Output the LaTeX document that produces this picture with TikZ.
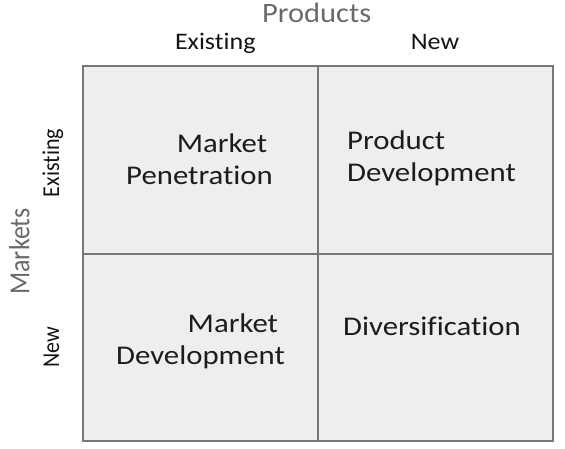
\documentclass[tikz,border=0pt]{standalone}
\usepackage{fontspec}
\usepackage{graphicx}
\setmainfont{Carlito}[Ligatures={NoCommon,NoContextual}]
\definecolor{cellfill}{HTML}{EEEEEE}
\definecolor{gridline}{HTML}{777777}
\definecolor{axisgray}{HTML}{6A6A6A}
\definecolor{labdark}{HTML}{141414}
\definecolor{qtext}{HTML}{1C1C1C}
\newcommand{\hstr}[2]{\scalebox{#1}[1]{#2}}
\newcommand{\vstr}[2]{\scalebox{1}[#1]{#2}}
\begin{document}
\begin{tikzpicture}[x=1pt,y=-1pt,
  cell/.style={draw=gridline, line width=2.2pt, fill=cellfill, rectangle,
    minimum width=235pt, minimum height=187.5pt, inner sep=0pt, anchor=north west},
  axislab/.style={text=axisgray, inner sep=0pt},
  collab/.style={text=labdark, inner sep=0pt, font=\fontsize{23.7}{26}\selectfont, anchor=base},
  rowlab/.style={text=labdark, inner sep=0pt, font=\fontsize{22}{24}\selectfont, anchor=base, rotate=90},
  quad/.style={text=qtext, inner sep=0pt, font=\fontsize{27}{32}\selectfont}
]
\useasboundingbox (0,0) rectangle (565,448);
% cells
\node[cell] (c11) at (82,65) {};
\node[cell] (c12) at (317,65) {};
\node[cell] (c21) at (82,252.5) {};
\node[cell] (c22) at (317,252.5) {};
% axis titles
\node[axislab, font=\fontsize{28}{30}\selectfont, anchor=base] (prod) at (316.7,22.7) {\hstr{1.09}{Products}};
\node[axislab, font=\fontsize{26}{28}\selectfont, anchor=base, rotate=90] (mark) at (29.3,251.5) {\vstr{1.12}{Markets}};
% column labels
\node[collab] (colE) at (215.3,49.7) {\hstr{1.1}{Existing}};
\node[collab] (colN) at (435,49.7) {\hstr{1.1}{New}};
% row labels
\node[rowlab] (rowE) at (59,163) {\vstr{1.1}{Existing}};
\node[rowlab] (rowN) at (59,347.5) {\vstr{1.1}{New}};
% quadrant texts
\node[quad, anchor=base east] (mp) at (273,152) {\hstr{1.14}{\begin{tabular}[t]{@{}r@{}}Market\kern5pt\\Penetration\end{tabular}}};
\node[quad, anchor=base west] (pd) at (347,149) {\hstr{1.14}{\begin{tabular}[t]{@{}l@{}}Product\\Development\end{tabular}}};
\node[quad, anchor=base east] (md) at (285,332) {\hstr{1.14}{\begin{tabular}[t]{@{}r@{}}Market\kern6pt\\Development\end{tabular}}};
\node[quad, anchor=base west] (dv) at (343,335) {\hstr{1.14}{Diversification}};
\end{tikzpicture}
\end{document}
